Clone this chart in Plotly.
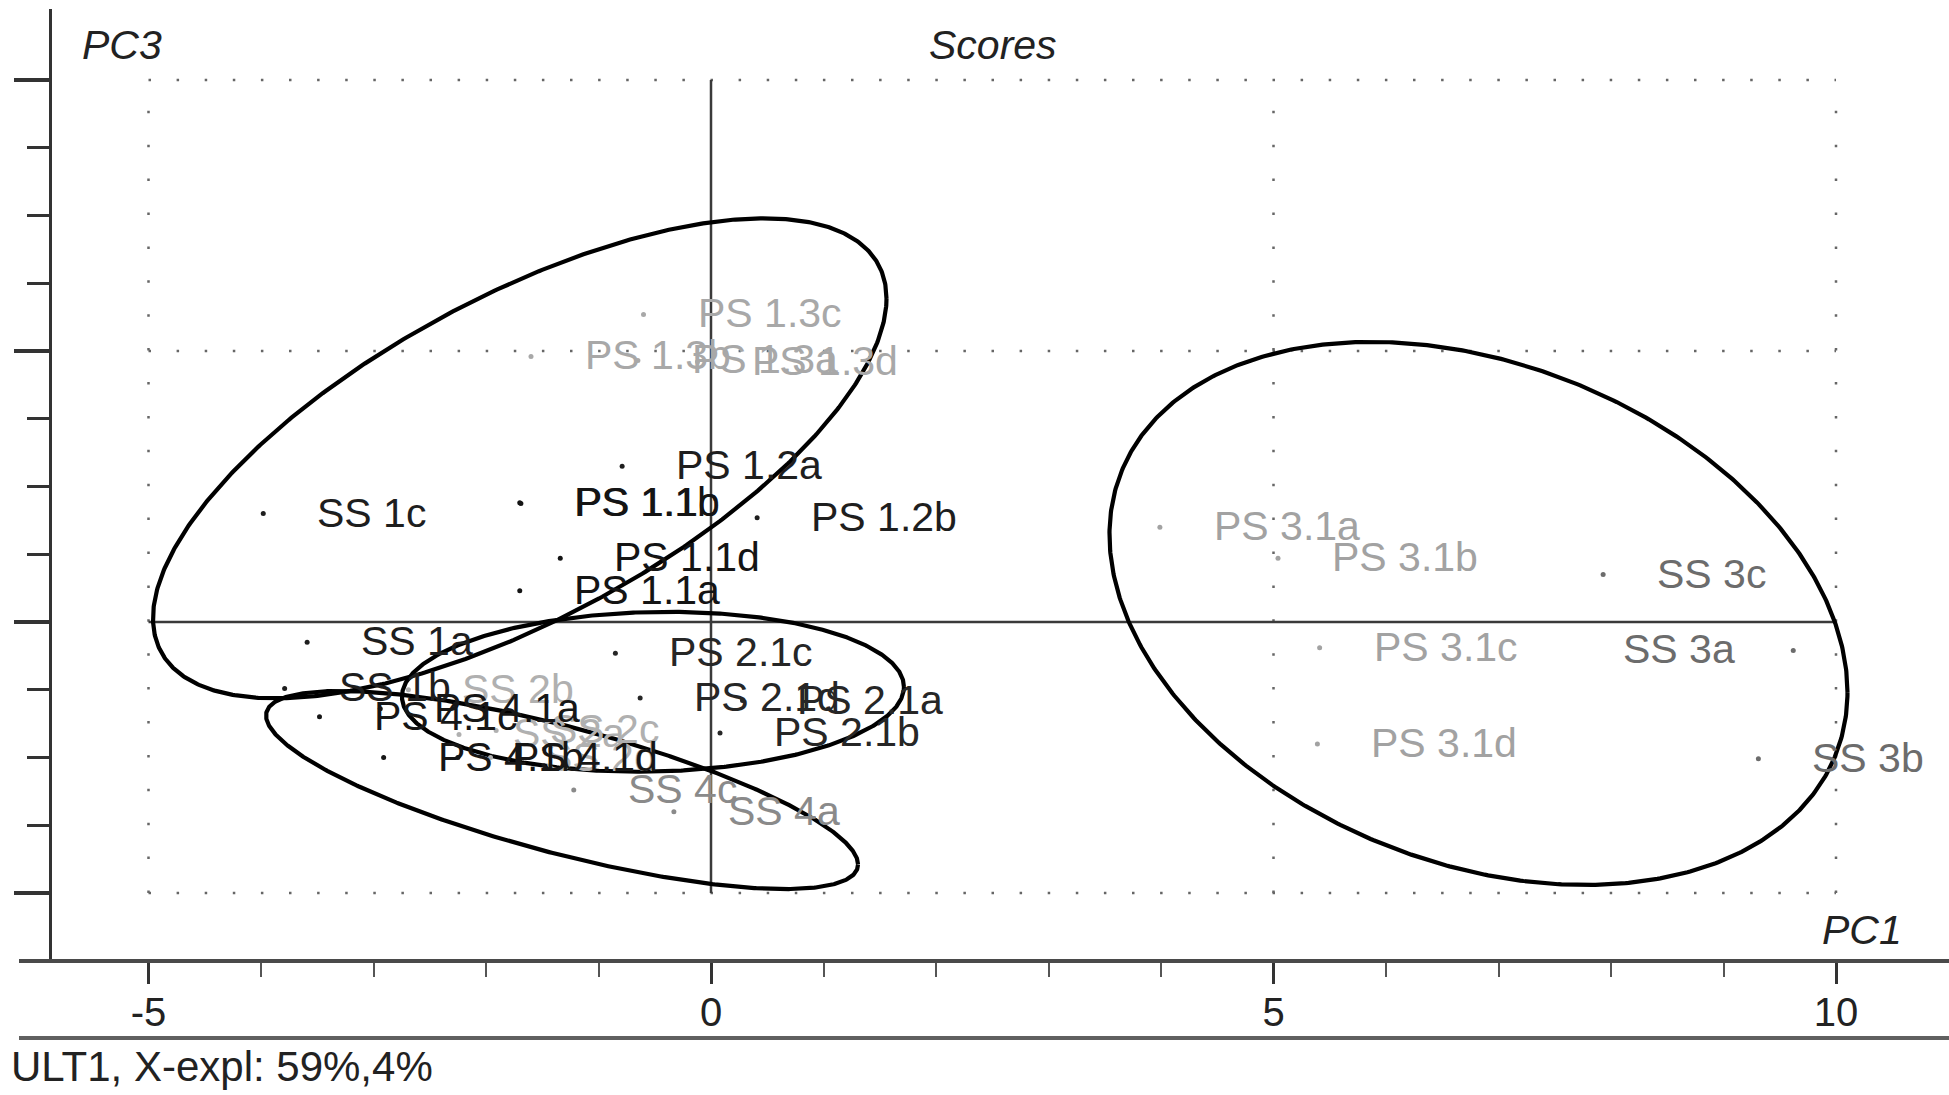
import numpy as np
import plotly.graph_objects as go

# ---------------- data ----------------
labels = ["SS 1c", "PS 1.1b", "PS 1.1c", "PS 1.2a", "PS 1.2b", "PS 1.1d", "PS 1.1a", "SS 1a", "SS 1b",
          "PS 1.3c", "PS 1.3b", "PS 1.3a", "PS 1.3d",
          "PS 2.1c", "PS 2.1d", "PS 2.1a", "PS 2.1b",
          "SS 2b", "SS 2a", "SS 2c", "SS 2d",
          "PS 4.1c", "PS 4.1a", "PS 4.1b", "PS 4.1d",
          "SS 4c", "SS 4a",
          "PS 3.1a", "PS 3.1b", "PS 3.1c", "PS 3.1d",
          "SS 3c", "SS 3a", "SS 3b"]
pc1 = [-3.98, -1.70, -1.69, -0.79, 0.41, -1.34, -1.70, -3.59, -3.79,
       -0.60, -1.60, -0.65, -0.12,
       -0.85, -0.63, 0.28, 0.08,
       -2.69, -2.24, -1.91, -1.96,
       -3.48, -2.94, -2.91, -2.25,
       -1.22, -0.33,
       3.99, 5.04, 5.41, 5.39,
       7.93, 9.62, 9.31]
pc3 = [0.80, 0.88, 0.875, 1.15, 0.77, 0.47, 0.23, -0.15, -0.49,
       2.27, 1.96, 1.93, 1.92,
       -0.23, -0.56, -0.58, -0.82,
       -0.50, -0.83, -0.80, -1.00,
       -0.70, -0.64, -1.00, -1.00,
       -1.24, -1.40,
       0.70, 0.47, -0.19, -0.90,
       0.35, -0.21, -1.01]
group = ["S1", "P11", "P11", "P12", "P12", "P11", "P11", "S1", "S1",
         "P13", "P13", "P13", "P13",
         "P21", "P21", "P21", "P21",
         "S2", "S2", "S2", "S2",
         "P41", "P41", "P41", "P41",
         "S4", "S4",
         "P31", "P31", "P31", "P31",
         "S3", "S3", "S3"]

# confidence ellipses: centre, half-width, half-height, correlation (PC1/PC3 units)
ell_cx = [-1.70, -0.516, -1.324, 6.822]
ell_cy = [1.208, -0.515, -1.240, 0.063]
ell_hw = [3.26, 2.231, 2.631, 3.28]
ell_hh = [1.771, 0.590, 0.731, 2.004]
ell_rho = [0.666, 0.06, -0.751, -0.29]

x_major = [-5, 0, 5, 10]
x_minor = [-4, -3, -2, -1, 1, 2, 3, 4, 6, 7, 8, 9]
y_major = [-2, 0, 2, 4]
y_minor = [-1.5, -1, -0.5, 0.5, 1, 1.5, 2.5, 3, 3.5]
x_grid = [-5, 5, 10]
y_grid = [-2, 2, 4]

# ---------------- styling ----------------
colors = {"S1": "#1e1e1e", "P11": "#141414", "P12": "#1e1e1e", "P13": "#a8a8a8",
          "P21": "#262626", "S2": "#b0b0b0", "P41": "#161616", "S4": "#8a8a8a",
          "P31": "#a2a2a2", "S3": "#6c6c6c"}
left_labels = {"SS 3a"}
FONT = "Liberation Sans, Arial, sans-serif"

W, H = 1949, 1095
L, R, T, B = 52, 1949, 9, 961          # plot area in pixels
X0PX, XPU = 711.0, 112.5               # pixel of PC1=0, pixels per unit
Y0PX, YPU = 622.0, 135.5               # pixel of PC3=0, pixels per unit
xr = [(L - X0PX) / XPU, (R - X0PX) / XPU]
yr = [(Y0PX - B) / YPU, (Y0PX - T) / YPU]


def px(xp):
    return (xp - L) / (R - L)


def py(yp):
    return (B - yp) / (B - T)


fig = go.Figure()

# grid (dotted) and zero lines
shapes = []
for gy in y_grid:
    shapes.append(dict(type="line", xref="x", yref="y", x0=-5, x1=10, y0=gy, y1=gy,
                       line=dict(color="#666666", width=2.5, dash="2.5px,25.6px"), layer="below"))
for gx in x_grid:
    shapes.append(dict(type="line", xref="x", yref="y", x0=gx, x1=gx, y0=-2, y1=4,
                       line=dict(color="#666666", width=2.5, dash="2.5px,31.4px"), layer="below"))
shapes.append(dict(type="line", xref="x", yref="y", x0=-5, x1=10, y0=0, y1=0,
                   line=dict(color="#3a3a3a", width=2.5), layer="below"))
shapes.append(dict(type="line", xref="x", yref="y", x0=0, x1=0, y0=-2, y1=4,
                   line=dict(color="#3a3a3a", width=2.5), layer="below"))
# frame lines
shapes.append(dict(type="line", xref="paper", yref="paper", x0=px(19), x1=1, y0=0, y1=0,
                   line=dict(color="#4a4a4a", width=4)))
shapes.append(dict(type="line", xref="paper", yref="paper", x0=px(19), x1=1, y0=py(1038), y1=py(1038),
                   line=dict(color="#606060", width=4)))

# ellipses
t = np.linspace(0, 2 * np.pi, 721)
for cx, cy, hw, hh, rho in zip(ell_cx, ell_cy, ell_hw, ell_hh, ell_rho):
    ex = cx + hw * np.cos(t)
    ey = cy + hh * (rho * np.cos(t) + np.sqrt(1 - rho ** 2) * np.sin(t))
    fig.add_trace(go.Scatter(x=ex, y=ey, mode="lines", line=dict(color="black", width=4.2),
                             hoverinfo="skip", showlegend=False))

# points
for g in colors:
    idx = [i for i, gg in enumerate(group) if gg == g]
    fig.add_trace(go.Scatter(x=[pc1[i] for i in idx], y=[pc3[i] for i in idx], mode="markers",
                             marker=dict(color=colors[g], size=5), text=[labels[i] for i in idx],
                             hoverinfo="text", showlegend=False))

annotations = []
for lab, xv, yv, g in zip(labels, pc1, pc3, group):
    left = lab in left_labels
    annotations.append(dict(x=xv, y=yv, xref="x", yref="y", text=lab, showarrow=False,
                            xanchor="right" if left else "left", yanchor="middle",
                            xshift=-56 if left else 52, yshift=1,
                            font=dict(family=FONT, size=41, color=colors[g])))

# titles
annotations += [
    dict(x=px(122), y=py(45), xref="paper", yref="paper", text="<i>PC3</i>", showarrow=False,
         xanchor="center", yanchor="middle", font=dict(family=FONT, size=41, color="#222")),
    dict(x=px(993), y=py(45), xref="paper", yref="paper", text="<i>Scores</i>", showarrow=False,
         xanchor="center", yanchor="middle", font=dict(family=FONT, size=41, color="#222")),
    dict(x=px(1862), y=py(930), xref="paper", yref="paper", text="<i>PC1</i>", showarrow=False,
         xanchor="center", yanchor="middle", font=dict(family=FONT, size=41, color="#222")),
    dict(x=px(9), y=py(1066), xref="paper", yref="paper", text="ULT1, X-expl: 59%,4%",
         showarrow=False, xanchor="left", yanchor="middle",
         font=dict(family=FONT, size=42, color="#222")),
]

fig.update_layout(
    width=W, height=H,
    margin=dict(l=L, r=W - R, t=T, b=H - B, pad=0),
    paper_bgcolor="white", plot_bgcolor="white",
    shapes=shapes, annotations=annotations, showlegend=False,
    xaxis=dict(range=xr, showgrid=False, zeroline=False, showline=False,
               ticks="outside", tickmode="array", tickvals=x_major,
               ticktext=[str(v) for v in x_major], ticklen=22, tickwidth=2.5, tickcolor="#333",
               tickfont=dict(family=FONT, size=40, color="#222"), ticklabelstandoff=-6,
               minor=dict(tickmode="array", tickvals=x_minor, ticks="outside", ticklen=15,
                          tickwidth=2, tickcolor="#555", showgrid=False)),
    yaxis=dict(range=yr, showgrid=False, zeroline=False, showline=True, linecolor="#333",
               linewidth=2.5, ticks="outside", tickmode="array", tickvals=y_major,
               showticklabels=False, ticklen=35, tickwidth=4, tickcolor="#333",
               minor=dict(tickmode="array", tickvals=y_minor, ticks="outside", ticklen=22,
                          tickwidth=3, tickcolor="#333", showgrid=False)),
)

fig.write_html("out.html")
